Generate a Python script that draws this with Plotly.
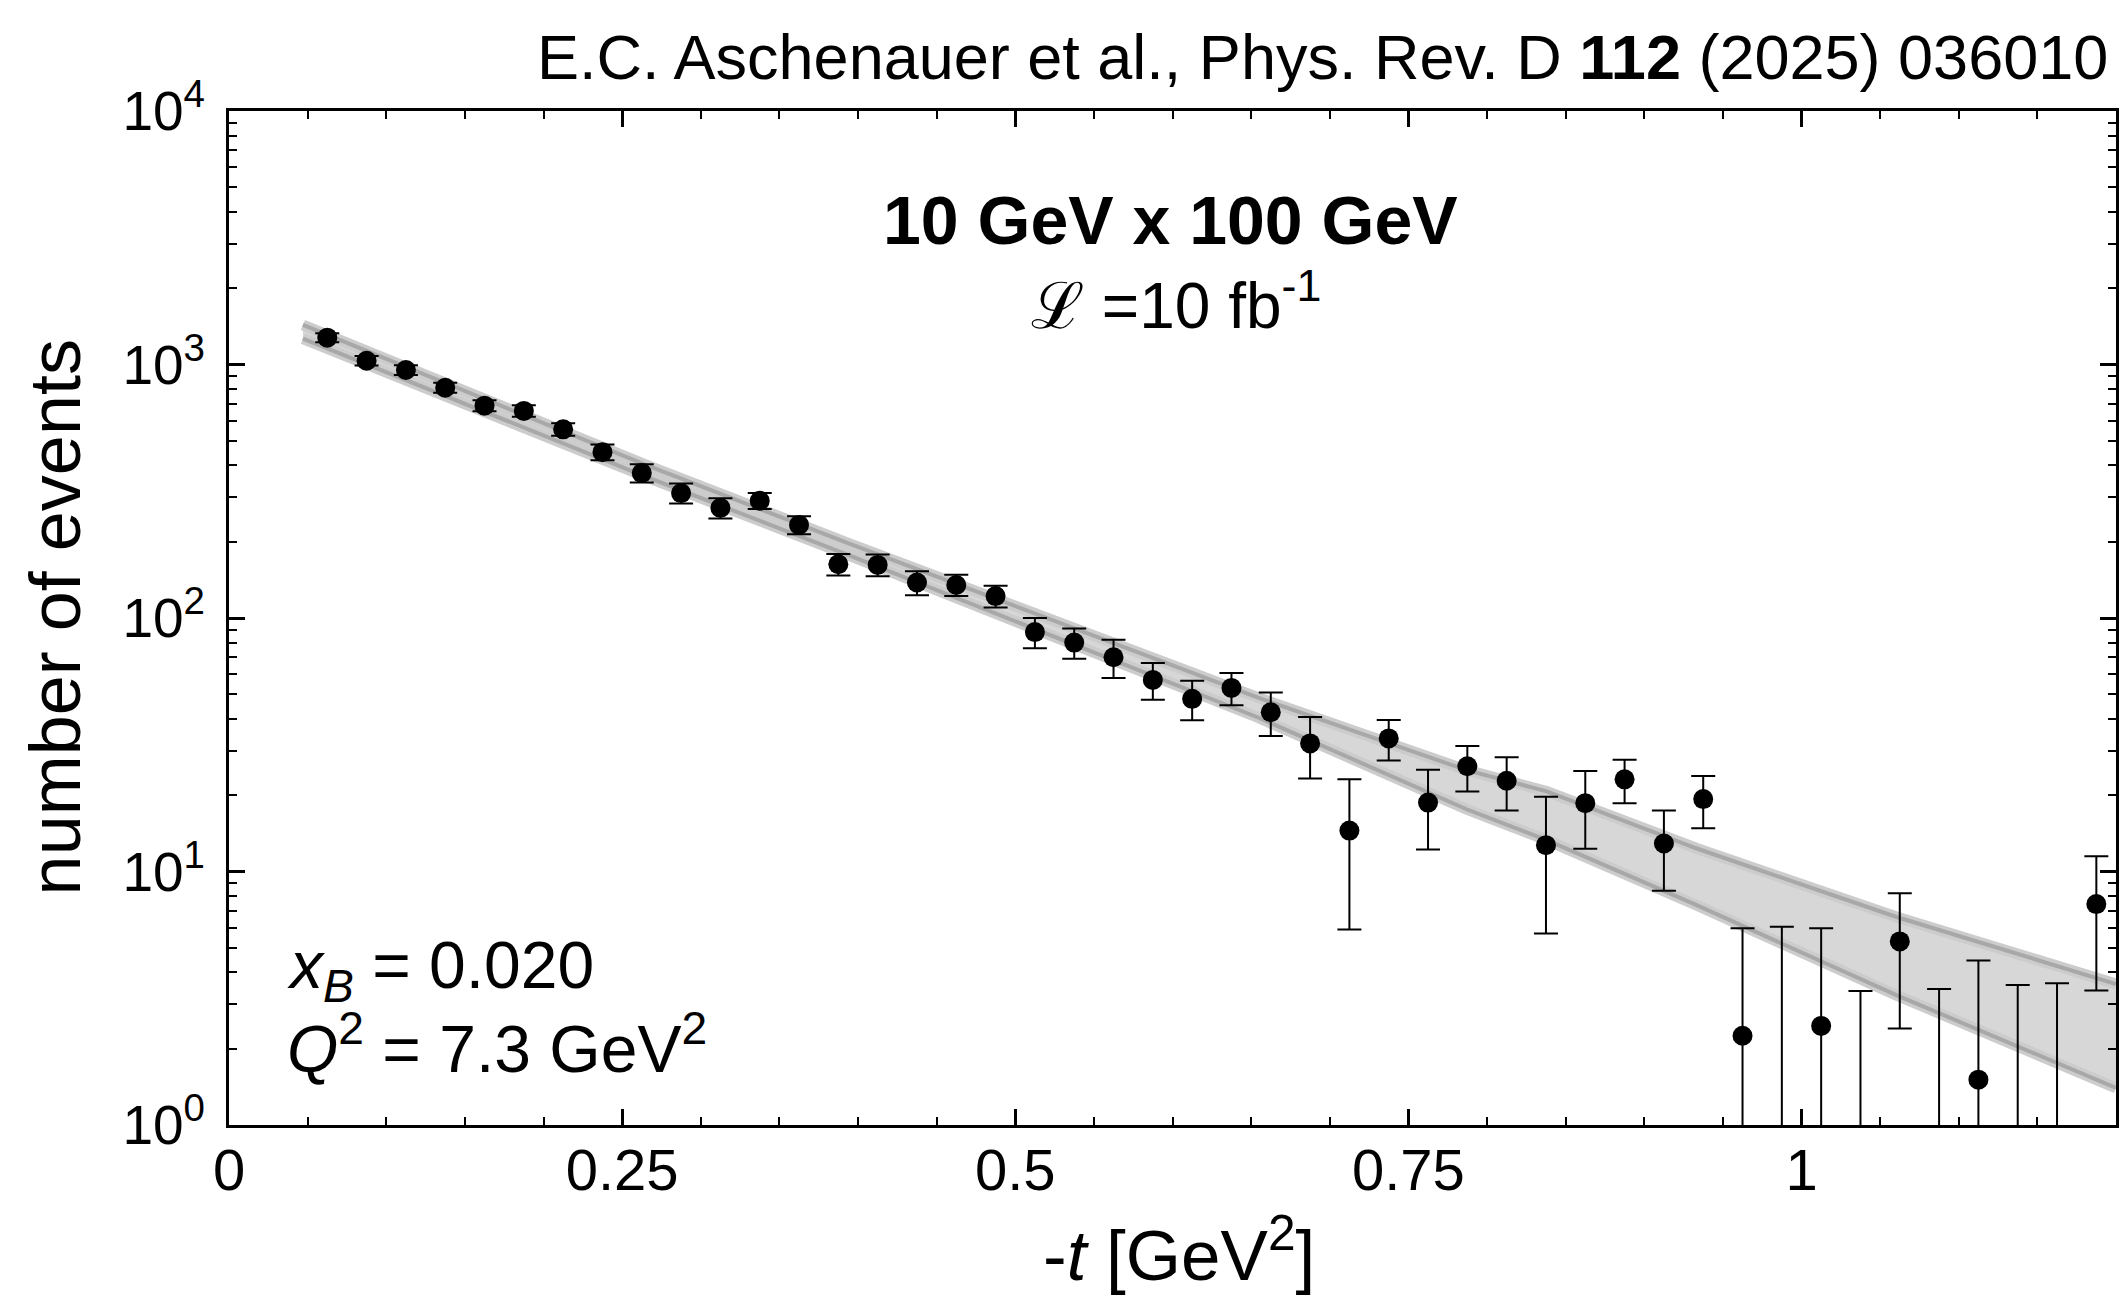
import plotly.graph_objects as go

# ---------------- data ----------------
t_bins = [0.0625, 0.0875, 0.1125, 0.1375, 0.1625, 0.1875, 0.2125, 0.2375, 0.2625, 0.2875,
          0.3125, 0.3375, 0.3625, 0.3875, 0.4125, 0.4375, 0.4625, 0.4875, 0.5125, 0.5375,
          0.5625, 0.5875, 0.6125, 0.6375, 0.6625, 0.6875, 0.7125, 0.7375, 0.7625, 0.7875,
          0.8125, 0.8375, 0.8625, 0.8875, 0.9125, 0.9375, 0.9625, 1.0125, 1.0625, 1.1125,
          1.1875]
events = [1276, 1035, 951, 810, 688, 656, 555, 451, 373, 311,
          272, 290, 233, 163, 162, 138, 135, 122, 88, 80,
          70, 57, 48, 53, 42.5, 32, 14.5, 33.5, 18.7, 26,
          22.8, 12.7, 18.6, 23.1, 12.9, 19.3, 2.25, 2.46, 5.3, 1.51,
          7.44]
errors = [52, 45, 42, 37, 34, 34, 32, 32, 31, 28,
          25, 21, 19, 16, 16, 15, 13, 12, 12, 11,
          12, 9.4, 8.5, 7.7, 8.3, 8.7, 8.6, 6.1, 6.5, 5.3,
          5.4, 7.0, 6.3, 4.5, 4.5, 4.5, 3.72, 3.51, 2.9, 2.95,
          4.05]

# empty bins: only an upper error (zero events)
empty_t = [0.9875, 1.0375, 1.0875, 1.1375, 1.1625]
empty_upper = [6.06, 3.38, 3.44, 3.57, 3.62]

# fit band (upper / lower curves)
band_t = [0.047, 0.265, 0.394, 0.654, 0.787, 0.838, 0.933, 1.002, 1.060, 1.2]
band_hi = [1432, 402, 197, 48.6, 25.1, 20.7, 12.35, 8.83, 6.63, 3.60]
band_lo = [1265, 361, 177, 40.6, 17.6, 13.3, 7.38, 4.73, 3.26, 1.40]

x_tick_vals = [0, 0.25, 0.5, 0.75, 1]
x_tick_text = ["0", "0.25", "0.5", "0.75", "1"]
y_tick_vals = [1, 10, 100, 1000, 10000]
y_tick_text = ["10<sup>0</sup>", "10<sup>1</sup>", "10<sup>2</sup>", "10<sup>3</sup>", "10<sup>4</sup>"]

FONT = "Liberation Sans, Arial, Helvetica, sans-serif"
FILL = "rgb(215,215,215)"
HALO = "rgb(204,204,204)"
LINE = "rgb(168,168,168)"

fig = go.Figure()

# band fill
fig.add_trace(go.Scatter(
    x=band_t + band_t[::-1], y=band_hi + band_lo[::-1],
    fill="toself", fillcolor=FILL, mode="none", hoverinfo="skip", showlegend=False))
# halos and lines of the two band edges
for arr in (band_hi, band_lo):
    fig.add_trace(go.Scatter(x=band_t, y=arr, mode="lines",
                             line=dict(color=HALO, width=11), hoverinfo="skip", showlegend=False))
for arr in (band_hi, band_lo):
    fig.add_trace(go.Scatter(x=band_t, y=arr, mode="lines",
                             line=dict(color=LINE, width=4), hoverinfo="skip", showlegend=False))

# empty bins: upper limits drawn as error bars from zero
fig.add_trace(go.Scatter(
    x=empty_t, y=empty_upper, mode="markers",
    marker=dict(size=1, opacity=0, color="black"),
    error_y=dict(type="data", symmetric=False, array=[0] * len(empty_upper),
                 arrayminus=empty_upper, color="black", thickness=2, width=12),
    hoverinfo="skip", showlegend=False))

# data points
fig.add_trace(go.Scatter(
    x=t_bins, y=events, mode="markers",
    marker=dict(size=20, color="black", line=dict(width=0)),
    error_y=dict(type="data", array=errors, color="black", thickness=2, width=12),
    showlegend=False))

axis_common = dict(
    showline=True, linecolor="black", linewidth=3, mirror="ticks",
    ticks="inside", tickcolor="black", tickwidth=2.5, ticklen=16,
    showgrid=False, zeroline=False,
)

fig.update_xaxes(
    range=[0, 1.2], tickmode="array", tickvals=x_tick_vals, ticktext=x_tick_text,
    minor=dict(tickmode="linear", tick0=0, dtick=0.05, ticks="inside", ticklen=8,
               tickwidth=2, tickcolor="black"),
    tickfont=dict(family=FONT, size=58, color="black"),
    ticklabelstandoff=-8,
    **axis_common)
fig.update_yaxes(
    type="log", range=[0, 4], tickmode="array", tickvals=y_tick_vals, ticktext=y_tick_text,
    minor=dict(tickmode="array",
               tickvals=[m * 10 ** k for k in range(4) for m in range(2, 10)],
               ticks="inside", ticklen=8, tickwidth=2, tickcolor="black"),
    tickfont=dict(family=FONT, size=55, color="black"),
    ticklabelstandoff=10,
    **axis_common)

ann = []
ann.append(dict(text="E.C. Aschenauer et al., Phys. Rev. D <b>112</b> (2025) 036010",
                xref="paper", yref="paper", x=0.997, y=1.0533, xanchor="right", yanchor="middle",
                showarrow=False, font=dict(family=FONT, size=63, color="black")))
ann.append(dict(text="<b>10 GeV x 100 GeV</b>", xref="paper", yref="paper",
                x=0.499, y=0.8925, xanchor="center", yanchor="middle", showarrow=False,
                font=dict(family=FONT, size=68, color="black")))
ann.append(dict(text="ℒ =10 fb<sup>-1</sup>", xref="paper", yref="paper",
                x=0.5016, y=0.813, xanchor="center", yanchor="middle", showarrow=False,
                font=dict(family=FONT, size=64, color="black")))
ann.append(dict(text="<i>x</i><sub><i>B</i></sub> = 0.020", xref="paper", yref="paper",
                x=0.0296, y=0.153, xanchor="left", yanchor="middle", showarrow=False,
                font=dict(family=FONT, size=66, color="black")))
ann.append(dict(text="<i>Q</i><sup>2</sup> = 7.3 GeV<sup>2</sup>", xref="paper", yref="paper",
                x=0.0296, y=0.080, xanchor="left", yanchor="middle", showarrow=False,
                font=dict(family=FONT, size=66, color="black")))
ann.append(dict(text="-<i>t</i> [GeV<sup>2</sup>]", xref="paper", yref="paper",
                x=0.5037, y=-0.123, xanchor="center", yanchor="middle", showarrow=False,
                font=dict(family=FONT, size=71, color="black")))
ann.append(dict(text="number of events", xref="paper", yref="paper",
                x=-0.092, y=0.501, xanchor="center", yanchor="middle", showarrow=False,
                textangle=-90, font=dict(family=FONT, size=72, color="black")))

fig.update_layout(
    width=2126, height=1298,
    margin=dict(l=229, r=7, t=111, b=173),
    paper_bgcolor="white", plot_bgcolor="white",
    font=dict(family=FONT, color="black"),
    annotations=ann,
)

fig.write_html("out.html",
               config={"displayModeBar": False},
               post_script="document.body.style.margin='0';document.body.style.overflow='hidden';")
